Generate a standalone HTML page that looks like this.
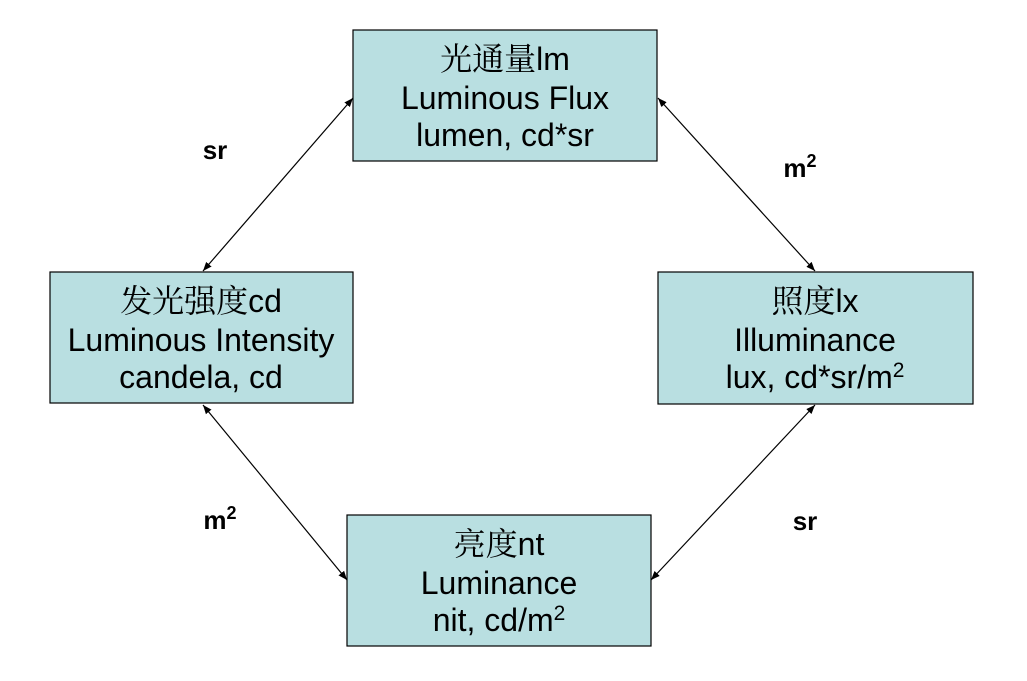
<!DOCTYPE html>
<html><head><meta charset="utf-8"><style>
html,body{margin:0;padding:0;background:#fff;}
svg{display:block;}
.t{font-family:"Liberation Sans","Noto Serif CJK SC",sans-serif;font-size:32px;fill:#000;text-anchor:middle;}
.l{font-family:"Liberation Sans",sans-serif;font-size:26px;font-weight:bold;fill:#000;text-anchor:middle;}
</style></head><body>
<svg width="1027" height="681" viewBox="0 0 1027 681" xmlns="http://www.w3.org/2000/svg">
<defs>
<marker id="a" viewBox="0 0 10 10" refX="10" refY="5" markerWidth="9" markerHeight="9" orient="auto-start-reverse" markerUnits="userSpaceOnUse">
<path d="M0,1 L10,5 L0,9 z" fill="#000"/></marker>
</defs>
<g fill="#b9dfe1" stroke="#000" stroke-width="1.2">
<rect x="353" y="30" width="304" height="131"/>
<rect x="50" y="272" width="303" height="131"/>
<rect x="658" y="272" width="315" height="132"/>
<rect x="347" y="515" width="304" height="131"/>
</g>
<g stroke="#000" stroke-width="1.2" marker-start="url(#a)" marker-end="url(#a)">
<line x1="353" y1="98" x2="203" y2="271"/>
<line x1="658" y1="98" x2="815" y2="271"/>
<line x1="203" y1="405" x2="347" y2="580"/>
<line x1="815" y1="405" x2="651" y2="580"/>
</g>
<text class="t" x="505" y="70">光通量lm</text>
<text class="t" x="505" y="109">Luminous Flux</text>
<text class="t" x="505" y="146">lumen, cd*sr</text>
<text class="t" x="201" y="312">发光强度cd</text>
<text class="t" x="201" y="351">Luminous Intensity</text>
<text class="t" x="201" y="388">candela, cd</text>
<text class="t" x="815" y="312">照度lx</text>
<text class="t" x="815" y="351">Illuminance</text>
<text class="t" x="815" y="388">lux, cd*sr/m<tspan font-size="21" dy="-11">2</tspan></text>
<text class="t" x="499" y="555">亮度nt</text>
<text class="t" x="499" y="594">Luminance</text>
<text class="t" x="499" y="631">nit, cd/m<tspan font-size="21" dy="-11">2</tspan></text>
<text class="l" x="215" y="159">sr</text>
<text class="l" x="800" y="177">m<tspan font-size="18" dy="-10">2</tspan></text>
<text class="l" x="220" y="529">m<tspan font-size="18" dy="-10">2</tspan></text>
<text class="l" x="805" y="530">sr</text>
</svg>
</body></html>
